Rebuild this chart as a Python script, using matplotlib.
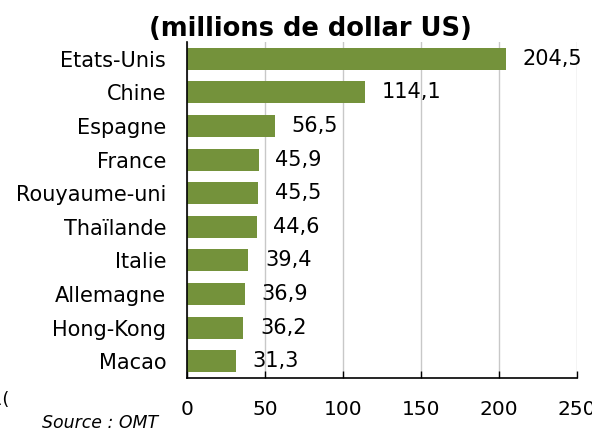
import matplotlib
matplotlib.use("Agg")
import matplotlib.pyplot as plt

countries = ["Etats-Unis", "Chine", "Espagne", "France", "Rouyaume-uni",
             "Thaïlande", "Italie", "Allemagne", "Hong-Kong", "Macao"]
values = [204.5, 114.1, 56.5, 45.9, 45.5, 44.6, 39.4, 36.9, 36.2, 31.3]
value_labels = ["204,5", "114,1", "56,5", "45,9", "45,5", "44,6", "39,4", "36,9", "36,2", "31,3"]
xticks = [0, 50, 100, 150, 200, 250]

plt.rcParams['font.family'] = ['DejaVu Sans']
fig = plt.figure(figsize=(5.92, 4.32), dpi=100)
ax = fig.add_axes([187/592, 1-378/432, (577-187)/592, (378-42)/432])

green = "#74923B"
pos = list(range(len(countries)))
ax.barh(pos, values, height=0.66, color=green, zorder=3)
ax.set_ylim(9.5, -0.5)
ax.set_xlim(0, 250)
ax.set_yticks(pos)
ax.set_yticklabels(countries, fontsize=15)
ax.set_xticks(xticks)
ax.set_xticklabels([str(t) for t in xticks], fontsize=14.5)
ax.tick_params(axis='y', length=0, pad=15)
ax.tick_params(axis='x', direction='in', length=5, pad=16, width=1)
ax.grid(axis='x', color='#C8C8C8', linewidth=1, zorder=0)
for s in ['top', 'right']:
    ax.spines[s].set_visible(False)
for s in ['left', 'bottom']:
    ax.spines[s].set_color('black')
    ax.spines[s].set_linewidth(1.2)
    ax.spines[s].set_zorder(4)

for p, v, lab in zip(pos, values, value_labels):
    ax.annotate(lab, (v, p), xytext=(12, 0), textcoords='offset points',
                va='center', ha='left', fontsize=15, zorder=5)

fig.text(310/592, 1-29/432, "(millions de dollar US)", fontsize=18.5,
         fontweight='bold', ha='center', va='center')
fig.text(42/592, 1-423/432, "Source : OMT", fontsize=12.5, style='italic',
         ha='left', va='center')
fig.text(-9/592, 1-400/432, "1(", fontsize=13, ha='left', va='center')

fig.savefig("out.png", dpi=100)
